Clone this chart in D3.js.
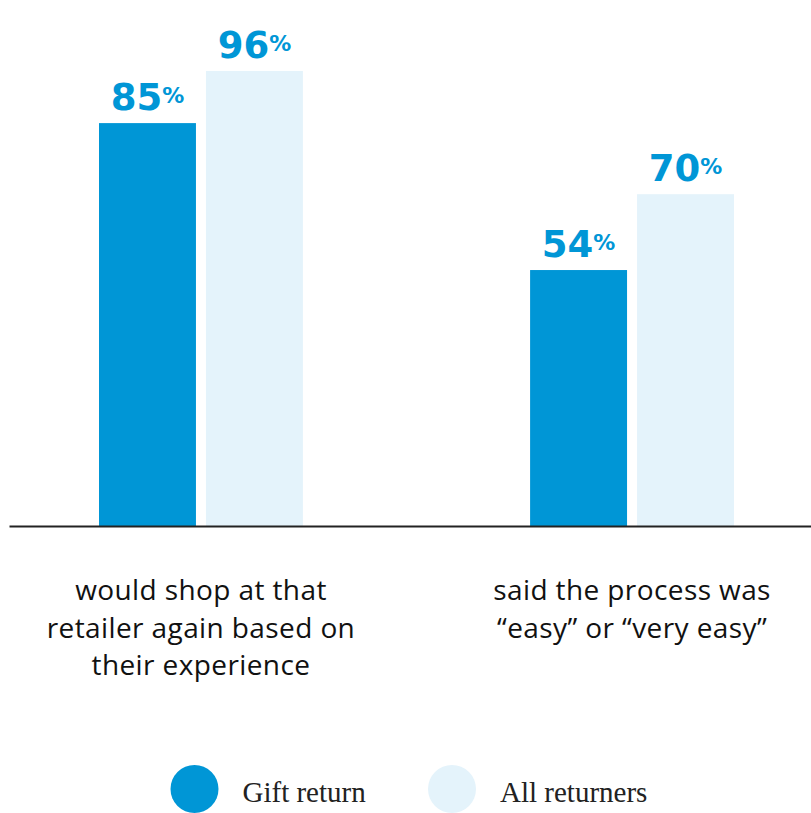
<!DOCTYPE html>
<html>
<head>
<meta charset="utf-8">
<script src="https://cdn.jsdelivr.net/npm/d3@7"></script>
<style>
  body { margin: 0; background: #fff; }
</style>
</head>
<body>
<svg id="chart" width="811" height="813"></svg>
<script>
// data
var categories = [
  ["would shop at that", "retailer again based on", "their experience"],
  ["said the process was", "\u201ceasy\u201d or \u201cvery easy\u201d"]
];
var seriesNames = ["Gift return", "All returners"];
var giftReturn = [85, 54];
var allReturners = [96, 70];

var colors = ["#0096d6", "#e4f3fb"];
var labelColor = "#0096d6";

var svg = d3.select("#chart");
var baseline = 526;

var catKeys = categories.map(function(c, i) { return i; });

var x0 = d3.scaleBand()
  .domain(catKeys)
  .range([99, 734])
  .paddingInner(0.527)
  .paddingOuter(0);

var x1 = d3.scaleBand()
  .domain(seriesNames)
  .range([0, x0.bandwidth()])
  .paddingInner(0.0935);

var y = d3.scaleLinear()
  .domain([0, 100])
  .range([baseline, 52]);

var rows = catKeys.map(function(i) {
  return [
    { cat: i, series: seriesNames[0], value: giftReturn[i] },
    { cat: i, series: seriesNames[1], value: allReturners[i] }
  ];
});

var groups = svg.selectAll(".group")
  .data(rows)
  .enter().append("g")
    .attr("class", "group")
    .attr("transform", function(d, i) { return "translate(" + x0(i) + ",0)"; });

groups.selectAll("rect")
  .data(function(d) { return d; })
  .enter().append("rect")
    .attr("x", function(d) { return x1(d.series); })
    .attr("y", function(d) { return y(d.value); })
    .attr("width", x1.bandwidth())
    .attr("height", function(d) { return baseline - y(d.value); })
    .attr("fill", function(d) { return colors[seriesNames.indexOf(d.series)]; });

// value labels
var lbl = groups.selectAll(".val")
  .data(function(d) { return d; })
  .enter().append("text")
    .attr("class", "val")
    .attr("x", function(d) { return x1(d.series) + x1.bandwidth() / 2; })
    .attr("y", function(d) { return y(d.value) - 13; })
    .attr("text-anchor", "middle")
    .attr("fill", labelColor)
    .style("font-family", "'DejaVu Sans', sans-serif")
    .style("font-weight", "bold");
lbl.append("tspan")
  .style("font-size", "37px")
  .text(function(d) { return d.value; });
lbl.append("tspan")
  .attr("dy", -7)
  .style("font-size", "22px")
  .text("%");

// baseline axis
svg.append("g")
  .attr("transform", "translate(0," + baseline + ")")
  .call(d3.axisBottom(d3.scaleLinear().range([9, 811])).ticks(0).tickSizeOuter(0))
  .call(function(g) {
    g.select(".domain").attr("stroke", "#222").attr("stroke-width", 2);
  });

// category labels
svg.selectAll(".cat")
  .data(categories)
  .enter().append("text")
    .attr("class", "cat")
    .attr("text-anchor", "middle")
    .attr("fill", "#111")
    .style("font-family", "'Open Sans', sans-serif")
    .style("font-size", "28px")
    .style("letter-spacing", "0.4px")
    .each(function(lines, i) {
      var t = d3.select(this);
      lines.forEach(function(line, j) {
        t.append("tspan")
          .attr("x", x0(i) + x0.bandwidth() / 2)
          .attr("y", 600 + j * 37.5)
          .text(line);
      });
    });

// legend
var legendX = [194.5, 452];
var leg = svg.selectAll(".leg")
  .data(seriesNames)
  .enter().append("g")
    .attr("class", "leg")
    .attr("transform", function(d, i) { return "translate(" + legendX[i] + ",789)"; });
leg.append("circle")
  .attr("r", 24)
  .attr("fill", function(d, i) { return colors[i]; });
leg.append("text")
  .attr("x", 48)
  .attr("y", 13)
  .attr("fill", "#222")
  .style("font-family", "'Liberation Serif', serif")
  .style("font-size", "29px")
  .text(function(d) { return d; });
</script>
</body>
</html>
